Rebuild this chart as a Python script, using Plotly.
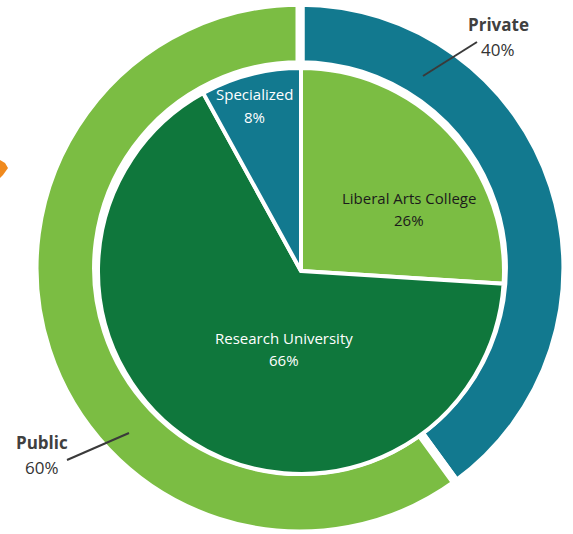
import plotly.graph_objects as go

W, H = 573, 534

# Outer ring: institution control
outer_labels = ["Private", "Public"]
outer_values = [40, 60]

# Inner pie: institution type
inner_labels = ["Liberal Arts College", "Research University", "Specialized"]
inner_values = [26, 66, 8]

TEAL = "#12798F"
LIGHT = "#7BBD43"
DARK = "#0F773C"

outer_colors = [TEAL, LIGHT]
inner_colors = [LIGHT, DARK, TEAL]
inner_text_colors = ["#1b1b1b", "#ffffff", "#ffffff"]


def px_x(x):
    return x / W


def px_y(y):
    return 1 - y / H


fig = go.Figure()

fig.add_trace(go.Pie(
    labels=outer_labels, values=outer_values, sort=False, direction="clockwise",
    rotation=0, hole=0.765, textinfo="none", hoverinfo="label+percent",
    marker=dict(colors=outer_colors, line=dict(color="white", width=9)),
    domain=dict(x=[px_x(300 - 266), px_x(300 + 266)], y=[0.0, 0.996]),
    showlegend=False,
))

fig.add_trace(go.Pie(
    labels=inner_labels, values=inner_values, sort=False, direction="clockwise",
    rotation=0, textinfo="none", hoverinfo="label+percent",
    marker=dict(colors=inner_colors, line=dict(color="white", width=4)),
    domain=dict(x=[px_x(301 - 203), px_x(301 + 203)], y=[px_y(271 + 203), px_y(271 - 203)]),
    showlegend=False,
))

total_inner = sum(inner_values)
total_outer = sum(outer_values)

annotations = []
# inner label positions (pixel centres of the two text lines)
inner_pos = [(409, 198, 220), (284, 338, 360), (254, 94, 117)]
for lab, val, col, (cx, y1, y2) in zip(inner_labels, inner_values, inner_text_colors, inner_pos):
    pct = round(100 * val / total_inner)
    annotations.append(dict(x=px_x(cx), y=px_y(y1), xref="paper", yref="paper", text=lab,
                            showarrow=False, font=dict(family="Open Sans", size=15, color=col),
                            xanchor="center", yanchor="middle"))
    annotations.append(dict(x=px_x(cx), y=px_y(y2), xref="paper", yref="paper", text=f"{pct}%",
                            showarrow=False, font=dict(family="Open Sans", size=15, color=col),
                            xanchor="center", yanchor="middle"))

outer_pos = [(498, 24, 49), (42, 442, 467)]
for lab, val, (cx, y1, y2) in zip(outer_labels, outer_values, outer_pos):
    pct = round(100 * val / total_outer)
    annotations.append(dict(x=px_x(cx), y=px_y(y1), xref="paper", yref="paper", text=f"<b>{lab}</b>",
                            showarrow=False, font=dict(family="Open Sans", size=17, color="#404040"),
                            xanchor="center", yanchor="middle"))
    annotations.append(dict(x=px_x(cx), y=px_y(y2), xref="paper", yref="paper", text=f"{pct}%",
                            showarrow=False, font=dict(family="Open Sans", size=17, color="#333333"),
                            xanchor="center", yanchor="middle"))

shapes = [
    dict(type="line", xref="paper", yref="paper", x0=px_x(423), y0=px_y(76), x1=px_x(477), y1=px_y(42),
         line=dict(color="#3a3a3a", width=2)),
    dict(type="line", xref="paper", yref="paper", x0=px_x(67), y0=px_y(460), x1=px_x(129), y1=px_y(433),
         line=dict(color="#3a3a3a", width=2)),
    dict(type="path", xref="paper", yref="paper",
         path=f"M {px_x(0)} {px_y(160)} L {px_x(5)} {px_y(163)} L {px_x(8)} {px_y(168)} "
              f"L {px_x(3)} {px_y(175)} L {px_x(0)} {px_y(178)} Z",
         fillcolor="#F08A1E", line=dict(width=0)),
]

fig.update_layout(
    width=W, height=H, margin=dict(l=0, r=0, t=0, b=0),
    paper_bgcolor="white", plot_bgcolor="white",
    annotations=annotations, shapes=shapes,
)

fig.write_html("out.html", config={"displayModeBar": False},
               post_script="document.body.style.margin='0';")
